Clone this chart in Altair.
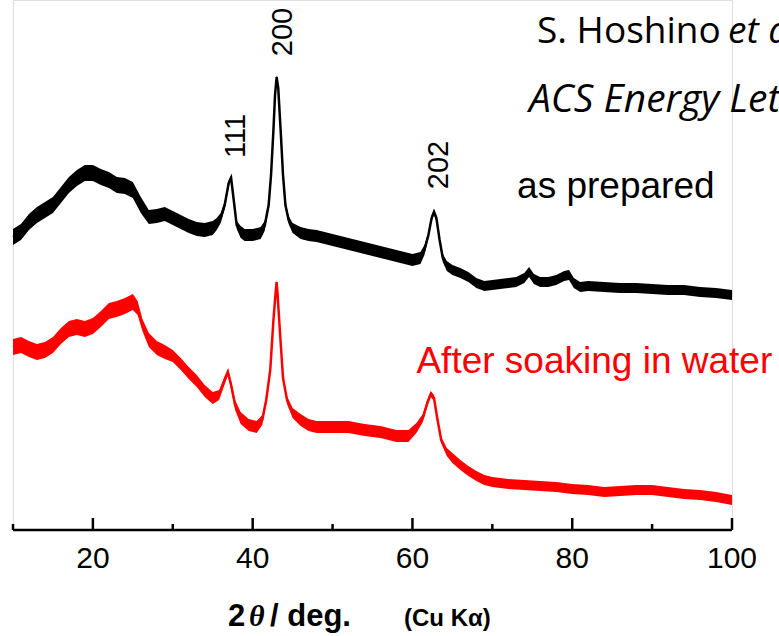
import altair as alt
import pandas as pd

# 2-theta positions (deg) and intensities (a.u., stacked offset) of the two XRD patterns
prepared_angle = [10, 11, 12, 13, 14, 15, 16, 17, 18, 19, 20, 21, 22, 23, 24, 25, 26, 27, 28, 29,
                  30, 31, 32, 33, 34, 35, 35.5, 36, 36.5, 37, 37.3, 37.6, 38, 38.5, 39, 40, 41, 41.5,
                  42, 42.3, 42.6, 42.8, 43.0, 43.2, 43.5, 43.8, 44.1, 44.5, 45, 46, 47, 48, 49, 50,
                  51, 52, 53, 54, 55, 56, 57, 58, 59, 60, 61, 61.5, 62, 62.4, 62.7, 63.0, 63.4, 63.8,
                  64.3, 65, 66, 67, 68, 69, 70, 71, 72, 73, 74, 74.6, 75.2, 76, 77, 78, 79, 79.6,
                  80.2, 81, 82, 84, 86, 88, 90, 92, 94, 96, 98, 100]
prepared_int = [293, 298, 308, 315, 320, 325, 335, 345, 352, 357, 357, 353, 350, 345, 344, 340, 325,
                313, 314, 316, 312, 308, 304, 301, 300, 302, 306, 312, 325, 347, 352, 332, 305, 298,
                295, 295, 297, 304, 325, 355, 400, 435, 453, 442, 400, 355, 325, 310, 302, 297, 295,
                294, 292, 290, 288, 286, 284, 282, 280, 278, 276, 274, 272, 270, 272, 280, 295, 312,
                318, 312, 290, 272, 264, 260, 257, 253, 247, 244, 245, 246, 247, 248, 252, 258, 251,
                248, 248, 250, 254, 255, 247, 243, 244, 243, 242, 242, 241, 240, 240, 238, 237, 235]
prepared_noise = [8, 8, 8, 8, 8, 8, 8, 8, 8, 8, 8, 8, 8, 8, 8, 8, 8, 7, 7, 7, 7, 7, 7, 7, 7, 7, 6,
                  5, 4, 3, 3, 3, 4, 6, 6, 6, 6, 5, 3, 2, 2, 2, 2, 2, 2, 2, 3, 4, 5, 6, 6, 6, 6, 6, 6,
                  6, 6, 6, 6, 6, 6, 6, 6, 6, 6, 5, 3, 3, 3, 3, 3, 4, 5, 5, 5, 5, 5, 5, 5, 5, 5, 5, 5,
                  5, 5, 5, 5, 5, 5, 5, 5, 5, 5, 5, 5, 5, 5, 5, 5, 5, 5, 5]

soaked_angle = [10, 11, 12, 13, 14, 15, 16, 17, 18, 19, 20, 21, 22, 23, 24, 25, 25.6, 26.2, 27, 28,
                29, 30, 31, 32, 33, 34, 35, 35.8, 36.5, 36.9, 37.3, 37.8, 38.5, 39.5, 40.5, 41.2,
                41.7, 42.2, 42.6, 42.9, 43.0, 43.1, 43.4, 43.8, 44.3, 45, 46, 47, 48, 50, 52, 54, 56,
                58, 59.5, 60.5, 61.3, 61.9, 62.3, 62.7, 63.1, 63.6, 64.3, 65, 66, 67, 68, 69, 70, 72,
                74, 76, 78, 80, 82, 84, 86, 88, 90, 92, 94, 96, 98, 100]
soaked_int = [183, 185, 181, 178, 180, 185, 194, 201, 203, 201, 204, 211, 219, 221, 224, 228, 222,
              205, 190, 182, 178, 174, 166, 157, 149, 139, 132, 135, 150, 158, 145, 125, 112, 105,
              103, 110, 130, 160, 210, 240, 248, 238, 200, 152, 130, 117, 110, 105, 103, 103, 103,
              100, 98, 94, 94, 102, 112, 128, 136, 132, 112, 90, 78, 72, 65, 59, 54, 50, 48, 46, 45,
              44, 43, 41, 40, 38, 39, 40, 40, 38, 36, 35, 33, 30]
soaked_noise = [8, 8, 8, 8, 8, 8, 8, 8, 8, 8, 8, 8, 8, 8, 8, 8, 7, 6, 7, 7, 7, 6, 6, 6, 6, 6, 6, 5,
                4, 3, 4, 5, 6, 6, 6, 5, 4, 2, 2, 2, 2, 2, 2, 2, 4, 5, 6, 6, 6, 6, 6, 6, 6, 6, 6, 5, 4,
                3, 3, 3, 3, 3, 4, 5, 5, 5, 5, 5, 5, 5, 5, 5, 5, 5, 5, 5, 5, 5, 5, 5, 5, 5, 5, 5]

# Miller indices and peak positions
hkl_labels = ["111", "200", "202"]
hkl_angle = [37.9, 43.8, 63.3]
hkl_height = [394, 498, 365]

# Sample labels
sample_names = ["as prepared", "After soaking in water"]
sample_colors = ["black", "red"]
sample_angle = [73.1, 60.5]
sample_height = [332, 157]

major_ticks = [20, 40, 60, 80, 100]
minor_ticks = [10, 30, 50, 70, 90]

W, H = 719, 530
FONT = "Liberation Sans"

xs = alt.Scale(domain=[10, 100], nice=False, zero=False)
ys = alt.Scale(domain=[0, H], nice=False, zero=False)


def xenc(field):
    return alt.X(field, scale=xs, axis=None)


def pattern(angle, inten, noise, color):
    df = pd.DataFrame({"angle": angle, "I": inten, "n": noise})
    df["lo"] = df["I"] - df["n"]
    df["hi"] = df["I"] + df["n"]
    band = alt.Chart(df).mark_area(color=color, opacity=1).encode(
        x=xenc("angle:Q"),
        y=alt.Y("lo:Q", scale=ys, axis=None),
        y2="hi:Q",
    )
    line = alt.Chart(df).mark_line(color=color, strokeWidth=2.5).encode(
        x=xenc("angle:Q"),
        y=alt.Y("I:Q", scale=ys, axis=None),
    )
    return band + line


black = pattern(prepared_angle, prepared_int, prepared_noise, "black")
red = pattern(soaked_angle, soaked_int, soaked_noise, "red")

# x axis: base line, inward-pointing major/minor ticks and tick labels
axis_line = alt.Chart(pd.DataFrame({"a": [10], "b": [100]})).mark_rule(
    color="black", strokeWidth=2.5).encode(
    x=xenc("a:Q"), x2="b:Q", y=alt.value(H))
major = alt.Chart(pd.DataFrame({"t": major_ticks})).mark_rule(
    color="black", strokeWidth=2.5).encode(
    x=xenc("t:Q"), y=alt.value(H - 12), y2=alt.value(H))
minor = alt.Chart(pd.DataFrame({"t": minor_ticks})).mark_rule(
    color="black", strokeWidth=2.5).encode(
    x=xenc("t:Q"), y=alt.value(H - 6), y2=alt.value(H))
tick_labels = alt.Chart(pd.DataFrame({"t": major_ticks})).mark_text(
    align="center", baseline="alphabetic", fontSize=30, font=FONT, color="black").encode(
    x=xenc("t:Q"), y=alt.value(H + 38), text="t:Q")

peaks = alt.Chart(pd.DataFrame({"hkl": hkl_labels, "angle": hkl_angle, "h": hkl_height})).mark_text(
    angle=270, align="center", baseline="middle", fontSize=29, font=FONT, color="black").encode(
    x=xenc("angle:Q"), y=alt.Y("h:Q", scale=ys, axis=None), text="hkl:N")

samples = alt.Chart(pd.DataFrame({"name": sample_names, "c": sample_colors,
                                  "angle": sample_angle, "h": sample_height})).mark_text(
    align="left", baseline="alphabetic", fontSize=37, font=FONT).encode(
    x=xenc("angle:Q"), y=alt.Y("h:Q", scale=ys, axis=None), text="name:N",
    color=alt.Color("c:N", scale=None))

one = pd.DataFrame({"k": [0]})


def label(text, x, y, size, weight="normal", style="normal", font=FONT):
    return alt.Chart(one).mark_text(
        align="left", baseline="alphabetic", fontSize=size, fontWeight=weight,
        fontStyle=style, font=font, color="black").encode(
        x=alt.value(x), y=alt.value(y), text=alt.value(text))


title = (label("2", 215, 626, 31, "bold")
         + label("θ", 236, 626, 30, "bold", "italic", "Liberation Serif")
         + label("/ deg.", 257, 626, 31, "bold")
         + label("(Cu Kα)", 391, 626, 24, "bold"))

ref = (label("S. Hoshino", 524, 43, 37, font="Open Sans")
       + label("et al.", 715, 43, 37, style="italic", font="Open Sans")
       + label("ACS Energy Lett.", 516, 112, 39, style="italic", font="Open Sans"))

chart = alt.layer(black, red, axis_line, major, minor, tick_labels, peaks, samples,
                  title, ref).properties(
    width=W, height=H,
    autosize=alt.AutoSizeParams(type="none"),
    padding={"left": 13, "top": 0, "right": 47, "bottom": 106},
).configure_view(
    stroke="transparent", strokeWidth=0
).configure(background="white")

chart.save("out.html", embed_options={"renderer": "svg", "actions": False})
